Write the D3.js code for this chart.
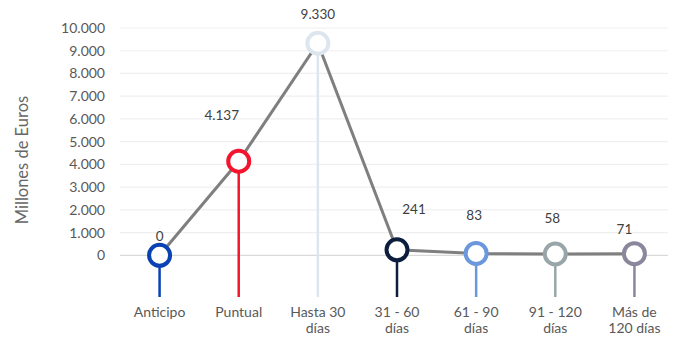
<!DOCTYPE html>
<head>
  <meta charset="utf-8">
  <style>
    body { margin: 0; background: #fff; }
    text { font-family: Lato, 'Open Sans', sans-serif; }
  </style>
  <script src="https://cdn.jsdelivr.net/npm/d3@7"></script>
</head>
<body>
  <script>
    // categories (second line of label after the |)
    const categories = ['Anticipo', 'Puntual', 'Hasta 30|días', '31 - 60|días', '61 - 90|días', '91 - 120|días', 'Más de|120 días'];
    const values = [0, 4137, 9330, 241, 83, 58, 71];
    const valueLabels = ['0', '4.137', '9.330', '241', '83', '58', '71'];
    const colors = ['#0a42b4', '#f5142d', '#dde6ef', '#0c1d3d', '#6b97dd', '#98a6aa', '#8a879c'];
    const yTicks = [0, 1000, 2000, 3000, 4000, 5000, 6000, 7000, 8000, 9000, 10000];
    const yTickLabels = ['0', '1.000', '2.000', '3.000', '4.000', '5.000', '6.000', '7.000', '8.000', '9.000', '10.000'];

    // label nudges relative to marker (dx, dy)
    const nudge = [[0, -14], [-17, -41], [0, -24], [17, -36], [-2, -33], [-3, -31], [-10, -20]];

    const w = 680, h = 338;
    const svg = d3.select('body').append('svg')
      .attr('width', w)
      .attr('height', h);

    const x = d3.scaleBand()
      .domain(categories)
      .range([120, 674]);

    const y = d3.scaleLinear()
      .domain([0, 10000])
      .range([255.3, 28]);

    // gridlines
    svg.selectAll('.grid')
      .data(yTicks)
      .enter()
      .append('line')
      .attr('x1', 120)
      .attr('x2', 668)
      .attr('y1', d => y(d))
      .attr('y2', d => y(d))
      .attr('stroke', d => d === 0 ? '#d9d9d9' : '#efefef')
      .attr('stroke-width', 1.2);

    svg.selectAll('.ytick')
      .data(yTicks)
      .enter()
      .append('text')
      .text((d, i) => yTickLabels[i])
      .attr('x', 105)
      .attr('y', d => y(d) + 5)
      .attr('text-anchor', 'end')
      .attr('font-size', '14px')
      .attr('fill', '#595959');

    svg.append('text')
      .text('Millones de Euros')
      .attr('transform', 'translate(28,160) rotate(-90)')
      .attr('text-anchor', 'middle')
      .attr('font-size', '16.5px')
      .attr('fill', '#666');

    const cx = (d, i) => x(categories[i]) + x.bandwidth() / 2;

    // stems
    svg.selectAll('.stem')
      .data(values)
      .enter()
      .append('line')
      .attr('x1', cx)
      .attr('x2', cx)
      .attr('y1', d => y(d))
      .attr('y2', 297)
      .attr('stroke', (d, i) => colors[i])
      .attr('stroke-width', 2.5);

    // connecting line
    const line = d3.line()
      .x((d, i) => cx(d, i))
      .y(d => y(d));

    svg.append('path')
      .datum(values)
      .attr('d', line)
      .attr('fill', 'none')
      .attr('stroke', '#7f7f7f')
      .attr('stroke-width', 3);

    // markers
    svg.selectAll('.marker')
      .data(values)
      .enter()
      .append('circle')
      .attr('cx', cx)
      .attr('cy', d => y(d))
      .attr('r', 10.5)
      .attr('fill', '#fff')
      .attr('stroke', (d, i) => colors[i])
      .attr('stroke-width', 4);

    // value labels
    svg.selectAll('.vlabel')
      .data(values)
      .enter()
      .append('text')
      .text((d, i) => valueLabels[i])
      .attr('x', (d, i) => cx(d, i) + nudge[i][0])
      .attr('y', (d, i) => y(d) + nudge[i][1])
      .attr('text-anchor', 'middle')
      .attr('font-size', '13.5px')
      .attr('fill', '#404040');

    // category labels, one text per line
    const catLines = [];
    categories.forEach(c => c.split('|').forEach((s, k) => catLines.push({ c, s, k })));

    svg.selectAll('.cat')
      .data(catLines)
      .enter()
      .append('text')
      .attr('text-anchor', 'middle')
      .attr('font-size', '14px')
      .attr('fill', '#595959')
      .attr('x', d => x(d.c) + x.bandwidth() / 2)
      .attr('y', d => 317 + d.k * 16)
      .text(d => d.s);
  </script>
</body>
